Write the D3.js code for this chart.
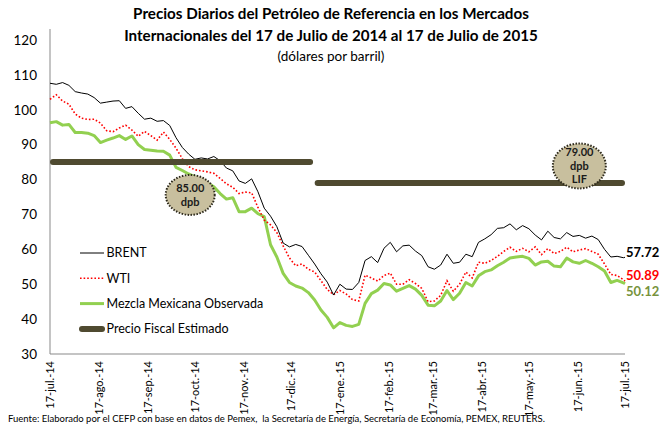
<!DOCTYPE html>
<html>
<head>
<meta charset="utf-8">
<script src="https://cdn.jsdelivr.net/npm/d3@7"></script>
<style>
  body { margin: 0; background: #fff; }
  text { font-family: Lato, "Open Sans", sans-serif; }
</style>
</head>
<body>
<div id="chart"></div>
<script>
// Dates (every 4 days) and daily prices, USD per barrel
var dates = ["2014-07-17","2014-07-21","2014-07-25","2014-07-29","2014-08-02","2014-08-06","2014-08-10","2014-08-14","2014-08-18","2014-08-22",
  "2014-08-26","2014-08-30","2014-09-03","2014-09-07","2014-09-11","2014-09-15","2014-09-19","2014-09-23","2014-09-27","2014-10-01",
  "2014-10-05","2014-10-09","2014-10-13","2014-10-17","2014-10-21","2014-10-25","2014-10-29","2014-11-02","2014-11-06","2014-11-10",
  "2014-11-14","2014-11-18","2014-11-22","2014-11-26","2014-11-30","2014-12-04","2014-12-08","2014-12-12","2014-12-16","2014-12-20",
  "2014-12-24","2014-12-28","2015-01-01","2015-01-05","2015-01-09","2015-01-13","2015-01-17","2015-01-21","2015-01-25","2015-01-29",
  "2015-02-02","2015-02-06","2015-02-10","2015-02-14","2015-02-18","2015-02-22","2015-02-26","2015-03-02","2015-03-06","2015-03-10",
  "2015-03-14","2015-03-18","2015-03-22","2015-03-26","2015-03-30","2015-04-03","2015-04-07","2015-04-11","2015-04-15","2015-04-19",
  "2015-04-23","2015-04-27","2015-05-01","2015-05-05","2015-05-09","2015-05-13","2015-05-17","2015-05-21","2015-05-25","2015-05-29",
  "2015-06-02","2015-06-06","2015-06-10","2015-06-14","2015-06-18","2015-06-22","2015-06-26","2015-06-30","2015-07-04","2015-07-08",
  "2015-07-12","2015-07-16","2015-07-17"];

var brent = [107.6,107.3,107.8,107.0,105.2,104.8,104.5,103.5,101.9,102.2,
  102.5,102.6,100.4,100.9,99.0,97.3,97.6,96.7,96.9,95.5,
  92.0,89.2,87.3,85.8,86.2,85.9,86.6,85.4,83.3,82.5,
  79.6,78.9,80.2,76.5,71.8,69.5,66.5,61.8,60.7,61.4,
  60.8,58.3,55.8,53.0,50.6,46.9,50.0,48.6,48.5,50.5,
  56.8,57.9,56.2,60.3,62.0,59.3,61.0,61.2,59.5,58.2,
  55.0,54.3,55.5,58.6,56.0,56.3,58.6,57.9,62.0,63.0,
  64.2,66.0,66.2,67.3,65.6,66.8,65.9,64.1,62.7,65.2,
  63.4,63.0,64.8,63.7,64.0,63.2,63.8,62.8,60.0,57.8,
  58.0,57.6,57.72];

var wti = [103.0,104.3,102.5,101.6,98.8,97.6,97.2,97.3,96.2,94.0,
  93.7,94.8,95.6,94.2,92.4,93.8,92.6,91.3,93.6,91.5,
  89.0,86.0,83.7,82.8,82.5,82.2,81.8,80.3,78.8,77.8,
  76.0,76.4,76.2,72.0,68.4,67.0,64.8,61.0,57.5,55.3,
  55.8,54.3,53.5,51.0,48.5,47.0,48.2,47.2,45.6,45.2,
  52.6,51.8,50.9,52.5,53.2,50.0,50.0,51.3,50.2,48.8,
  45.0,45.2,46.8,51.0,48.0,50.0,53.5,51.8,56.3,56.0,
  56.8,58.0,59.4,60.6,59.4,60.3,59.3,60.7,58.5,60.2,
  58.8,59.4,60.6,59.3,59.8,60.2,59.4,58.6,55.8,52.8,
  52.5,51.3,50.89];

var mezcla = [96.3,96.6,95.6,95.8,93.5,93.5,93.3,92.6,90.6,91.3,
  91.9,92.6,91.5,92.5,90.0,88.6,88.4,88.2,88.1,87.0,
  83.5,82.6,81.6,80.8,80.0,79.0,77.9,76.0,74.4,74.8,
  70.8,70.8,71.8,70.2,69.4,61.3,57.8,53.1,50.5,49.5,
  48.9,47.6,45.5,42.6,40.5,37.5,39.0,38.2,37.9,38.5,
  44.5,47.3,48.3,50.2,49.8,48.0,48.8,49.6,48.6,46.8,
  44.0,43.8,45.2,48.2,45.6,47.4,50.5,49.5,52.4,53.6,
  54.1,55.3,56.3,57.5,57.8,58.0,57.4,55.5,56.4,56.6,
  55.2,55.0,57.5,56.4,56.0,56.8,56.0,55.0,53.8,50.5,
  51.1,50.4,50.12];

// Precio fiscal estimado (2014 and LIF 2015)
var fiscalStart = ["2014-07-17", "2015-01-01"];
var fiscalEnd = ["2014-12-31", "2015-07-17"];
var fiscalValue = [85, 79];

// Callout bubbles
var calloutDate = ["2014-10-14", "2015-06-18"];
var calloutValue = [75.6, 83.9];
var calloutText = [["85.00", "dpb"], ["79.00", "dpb", "LIF"]];

var tickDates = ["2014-07-17","2014-08-17","2014-09-17","2014-10-17","2014-11-17","2014-12-17",
  "2015-01-17","2015-02-17","2015-03-17","2015-04-17","2015-05-17","2015-06-17","2015-07-17"];
var tickLabels = ["17-jul.-14","17-ago.-14","17-sep.-14","17-oct.-14","17-nov.-14","17-dic.-14",
  "17-ene.-15","17-feb.-15","17-mar.-15","17-abr.-15","17-may.-15","17-jun.-15","17-jul.-15"];
var yTicks = [30, 40, 50, 60, 70, 80, 90, 100, 110, 120];

var parseDate = d3.timeParse("%Y-%m-%d");
var width = 668, height = 427;

var svg = d3.select("#chart").append("svg")
  .attr("width", width)
  .attr("height", height);

var x = d3.scaleTime()
  .domain([parseDate("2014-07-17"), parseDate("2015-07-17")])
  .range([50, 625]);
var y = d3.scaleLinear().domain([30, 120]).range([354, 40]);

// Title
var title = svg.append("g").attr("text-anchor", "middle");
title.append("text").attr("x", 331).attr("y", 19)
  .style("font-size", "15.2px").style("font-weight", "bold")
  .text("Precios Diarios del Petróleo de Referencia en los Mercados");
title.append("text").attr("x", 331).attr("y", 41)
  .style("font-size", "15.2px").style("font-weight", "bold")
  .text("Internacionales del 17 de Julio de 2014 al 17 de Julio de 2015");
title.append("text").attr("x", 331).attr("y", 61)
  .style("font-size", "13.5px")
  .text("(dólares por barril)");

// Axes lines
svg.append("line").attr("x1", 50).attr("x2", 50).attr("y1", 29).attr("y2", 354)
  .style("stroke", "#898989").style("stroke-width", "1px");
svg.append("line").attr("x1", 50).attr("x2", 625).attr("y1", 354).attr("y2", 354)
  .style("stroke", "#898989").style("stroke-width", "1px");

// Y labels
svg.selectAll(".ylab").data(yTicks).enter().append("text")
  .attr("class", "ylab")
  .attr("x", 37)
  .attr("y", function(d) { return y(d); })
  .attr("dy", "0.35em")
  .attr("text-anchor", "end")
  .style("font-size", "13.5px")
  .text(function(d) { return d; });

// X labels (rotated)
svg.selectAll(".xlab").data(tickDates).enter().append("text")
  .attr("class", "xlab")
  .attr("transform", function(d) { return "translate(" + x(parseDate(d)) + ",361) rotate(-90)"; })
  .attr("dy", "0.35em")
  .attr("text-anchor", "end")
  .style("font-size", "11px")
  .text(function(d, i) { return tickLabels[i]; });

// Series
var series = dates.map(function(d, i) {
  return { date: parseDate(d), brent: brent[i], wti: wti[i], mezcla: mezcla[i] };
});

function lineFor(key) {
  return d3.line()
    .x(function(d) { return x(d.date); })
    .y(function(d) { return y(d[key]); });
}

svg.append("path").datum(series)
  .attr("d", lineFor("mezcla"))
  .style("fill", "none").style("stroke", "#92d050").style("stroke-width", "3px")
  .style("stroke-linejoin", "round");

svg.append("path").datum(series)
  .attr("d", lineFor("wti"))
  .style("fill", "none").style("stroke", "#ff0000").style("stroke-width", "1.6px")
  .style("stroke-dasharray", "1.6,2");

svg.append("path").datum(series)
  .attr("d", lineFor("brent"))
  .style("fill", "none").style("stroke", "#000").style("stroke-width", "1px");

// Fiscal price bars
svg.selectAll(".fiscal").data(fiscalValue).enter().append("line")
  .attr("class", "fiscal")
  .attr("x1", function(d, i) { return x(parseDate(fiscalStart[i])) + 3; })
  .attr("x2", function(d, i) { return x(parseDate(fiscalEnd[i])) - 3; })
  .attr("y1", function(d) { return y(d); })
  .attr("y2", function(d) { return y(d); })
  .style("stroke", "#4f4a30").style("stroke-width", "6px")
  .style("stroke-linecap", "round");

// Callouts
var callout = svg.selectAll(".callout").data(calloutValue).enter().append("g")
  .attr("class", "callout")
  .attr("transform", function(d, i) { return "translate(" + x(parseDate(calloutDate[i])) + "," + y(d) + ")"; });

callout.append("ellipse")
  .attr("rx", function(d, i) { return i === 0 ? 24.5 : 26.5; })
  .attr("ry", function(d, i) { return i === 0 ? 20 : 22.5; })
  .style("fill", "#c8bf9e")
  .style("stroke", "#2e2a1c").style("stroke-width", "2px")
  .style("stroke-dasharray", "1.5,1.5");

callout.each(function(d, i) {
  var lines = calloutText[i];
  var g = d3.select(this);
  lines.forEach(function(t, j) {
    g.append("text")
      .attr("x", 0)
      .attr("y", (j - (lines.length - 1) / 2) * 13.5)
      .attr("dy", "0.35em")
      .attr("text-anchor", "middle")
      .style("font-size", "11px").style("font-weight", "bold")
      .style("fill", "#1a1a1a")
      .text(t);
  });
});

// End value labels
var last = series[series.length - 1];
var endLabels = [
  { v: last.brent, dy: -5, color: "#000" },
  { v: last.wti, dy: -6, color: "#ff0000" },
  { v: last.mezcla, dy: 8, color: "#77933c" }
];
svg.selectAll(".endlab").data(endLabels).enter().append("text")
  .attr("class", "endlab")
  .attr("x", x(last.date) + 1)
  .attr("y", function(d) { return y(d.v) + d.dy; })
  .attr("dy", "0.35em")
  .style("font-size", "13px").style("font-weight", "bold")
  .style("fill", function(d) { return d.color; })
  .text(function(d) { return d.v.toFixed(2); });

// Legend
var legendItems = [
  { name: "BRENT", color: "#000", w: 1, dash: null, cap: "butt" },
  { name: "WTI", color: "#ff0000", w: 1.6, dash: "1.6,2", cap: "butt" },
  { name: "Mezcla Mexicana Observada", color: "#92d050", w: 3, dash: null, cap: "butt" },
  { name: "Precio Fiscal Estimado", color: "#4f4a30", w: 6, dash: null, cap: "round" }
];
var legend = svg.selectAll(".legend").data(legendItems).enter().append("g")
  .attr("class", "legend")
  .attr("transform", function(d, i) { return "translate(0," + (253 + i * 25.3) + ")"; });
legend.append("line")
  .attr("x1", function(d) { return d.cap === "round" ? 82 : 80; })
  .attr("x2", function(d) { return d.cap === "round" ? 102 : 104; })
  .style("stroke", function(d) { return d.color; })
  .style("stroke-width", function(d) { return d.w + "px"; })
  .style("stroke-dasharray", function(d) { return d.dash; })
  .style("stroke-linecap", function(d) { return d.cap; });
legend.append("text")
  .attr("x", 106.5)
  .attr("dy", "0.35em")
  .style("font-size", "12.5px")
  .text(function(d) { return d.name; });

// Source note
svg.append("text")
  .attr("x", 8).attr("y", 419)
  .attr("dy", "0.35em")
  .style("font-size", "9.5px")
  .style("white-space", "pre")
  .text("Fuente: Elaborado por el CEFP con base en datos de Pemex,  la Secretaría de Energía, Secretaría de Economía, PEMEX, REUTERS.");
</script>
</body>
</html>
